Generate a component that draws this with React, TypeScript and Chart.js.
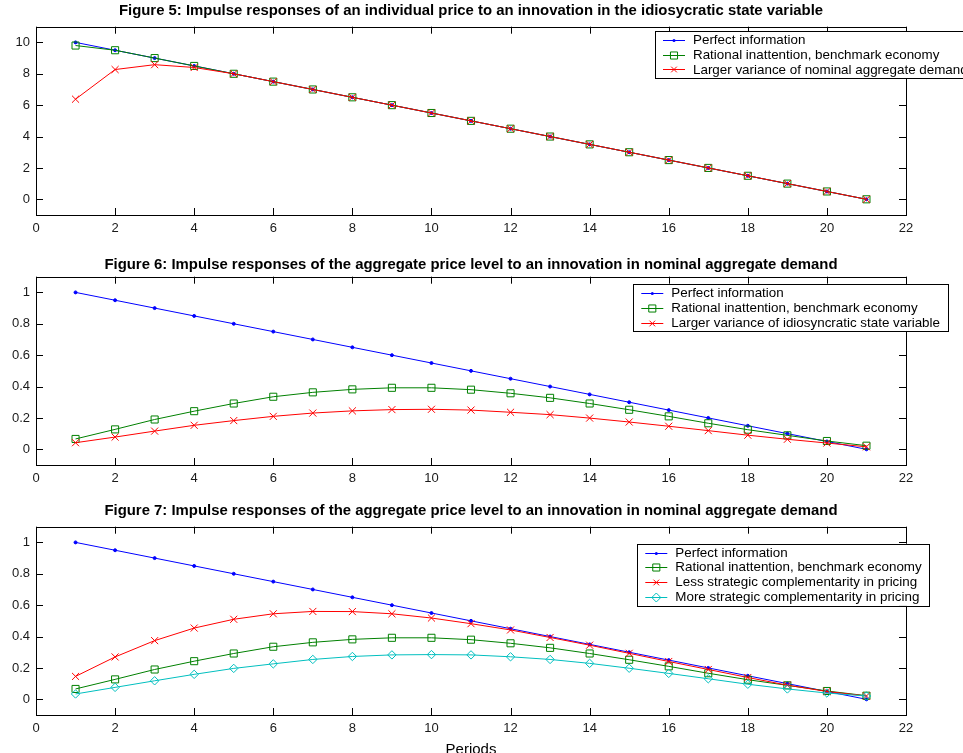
import React, { useEffect, useRef } from 'react';
import { Chart, registerables } from 'chart.js';

Chart.register(...registerables);

// ---------------- data ----------------
const periods = [1, 2, 3, 4, 5, 6, 7, 8, 9, 10, 11, 12, 13, 14, 15, 16, 17, 18, 19, 20, 21];
const xTickValues = [0, 2, 4, 6, 8, 10, 12, 14, 16, 18, 20, 22];
const fig5YTicks = [0, 2, 4, 6, 8, 10];
const fig67YTicks = [0, 0.2, 0.4, 0.6, 0.8, 1];

const fig5Perfect = [10, 9.5, 9, 8.5, 8, 7.5, 7, 6.5, 6, 5.5, 5, 4.5, 4, 3.5, 3, 2.5, 2, 1.5, 1, 0.5, 0];
const fig5Benchmark = [9.8, 9.5, 9, 8.5, 8, 7.5, 7, 6.5, 6, 5.5, 5, 4.5, 4, 3.5, 3, 2.5, 2, 1.5, 1, 0.5, 0];
const fig5LargerNominal = [6.38, 8.27, 8.58, 8.4, 8, 7.5, 7, 6.5, 6, 5.5, 5, 4.5, 4, 3.5, 3, 2.5, 2, 1.5, 1, 0.5, 0];

const aggPerfect = [1, 0.95, 0.9, 0.85, 0.8, 0.75, 0.7, 0.65, 0.6, 0.55, 0.5, 0.45, 0.4, 0.35, 0.3, 0.25, 0.2, 0.15, 0.1, 0.05, 0];
const aggBenchmark = [0.066, 0.127, 0.19, 0.243, 0.292, 0.335, 0.363, 0.382, 0.392, 0.392, 0.38, 0.357, 0.328, 0.292, 0.252, 0.21, 0.166, 0.125, 0.089, 0.053, 0.023];
const fig6LargerIdio = [0.042, 0.078, 0.116, 0.153, 0.183, 0.21, 0.231, 0.245, 0.253, 0.255, 0.25, 0.236, 0.221, 0.199, 0.174, 0.147, 0.119, 0.09, 0.064, 0.04, 0.016];
const fig7LessComp = [0.146, 0.27, 0.374, 0.454, 0.51, 0.545, 0.56, 0.559, 0.545, 0.518, 0.482, 0.442, 0.394, 0.345, 0.293, 0.241, 0.19, 0.139, 0.09, 0.05, 0.021];
const fig7MoreComp = [0.034, 0.076, 0.118, 0.159, 0.197, 0.226, 0.254, 0.273, 0.283, 0.285, 0.283, 0.271, 0.254, 0.229, 0.198, 0.165, 0.131, 0.096, 0.066, 0.04, 0.021];

const labelPerfect = 'Perfect information';
const labelBenchmark = 'Rational inattention, benchmark economy';

// ---------------- styles ----------------
const FONT = '"Liberation Sans", Arial, Helvetica, sans-serif';
const BLUE = '#0000ff';
const GREEN = '#008000';
const RED = '#ff0000';
const CYAN = '#00bfbf';

type Marker = 'dot' | 'square' | 'x' | 'diamond';
type Series = { label: string; data: number[]; color: string; marker: Marker };

const markerStyle: Record<Marker, { pointStyle: string; radius: number }> = {
  dot: { pointStyle: 'circle', radius: 1.5 },
  square: { pointStyle: 'rect', radius: 5 },
  x: { pointStyle: 'crossRot', radius: 5 },
  diamond: { pointStyle: 'rectRot', radius: 4.2 },
};

type Panel = {
  top: number;
  height: number;
  areaTop: number;
  areaBottom: number;
  yMin: number;
  yMax: number;
  yTicks: number[];
  title: string;
  titleGap: number;
  series: Series[];
  legendLeft: number;
  legendTop: number;
  xTitle?: string;
};

const panels: Panel[] = [
  {
    top: 0, height: 250, areaTop: 26.7, areaBottom: 215, yMin: -1, yMax: 11, yTicks: fig5YTicks,
    title: 'Figure 5: Impulse responses of an individual price to an innovation in the idiosycratic state variable',
    titleGap: 15.7,
    series: [
      { label: labelPerfect, data: fig5Perfect, color: BLUE, marker: 'dot' },
      { label: labelBenchmark, data: fig5Benchmark, color: GREEN, marker: 'square' },
      { label: 'Larger variance of nominal aggregate demand', data: fig5LargerNominal, color: RED, marker: 'x' },
    ],
    legendLeft: 655, legendTop: 31,
  },
  {
    top: 250, height: 245, areaTop: 26.7, areaBottom: 215, yMin: -0.1, yMax: 1.1, yTicks: fig67YTicks,
    title: 'Figure 6: Impulse responses of the aggregate price level to an innovation in nominal aggregate demand',
    titleGap: 11.7,
    series: [
      { label: labelPerfect, data: aggPerfect, color: BLUE, marker: 'dot' },
      { label: labelBenchmark, data: aggBenchmark, color: GREEN, marker: 'square' },
      { label: 'Larger variance of idiosyncratic state variable', data: fig6LargerIdio, color: RED, marker: 'x' },
    ],
    legendLeft: 633.3, legendTop: 34.3,
  },
  {
    top: 495, height: 258, areaTop: 31.7, areaBottom: 220, yMin: -0.1, yMax: 1.1, yTicks: fig67YTicks,
    title: 'Figure 7: Impulse responses of the aggregate price level to an innovation in nominal aggregate demand',
    titleGap: 15.7,
    series: [
      { label: labelPerfect, data: aggPerfect, color: BLUE, marker: 'dot' },
      { label: labelBenchmark, data: aggBenchmark, color: GREEN, marker: 'square' },
      { label: 'Less strategic complementarity in pricing', data: fig7LessComp, color: RED, marker: 'x' },
      { label: 'More strategic complementarity in pricing', data: fig7MoreComp, color: CYAN, marker: 'diamond' },
    ],
    legendLeft: 637.3, legendTop: 48.7,
    xTitle: 'Periods',
  },
];

const WIDTH = 963;
const AREA_LEFT = 36;
const AREA_RIGHT = 906;

function drawLegendMarker(ctx: CanvasRenderingContext2D, m: Marker, x: number, y: number, color: string) {
  ctx.save();
  ctx.strokeStyle = color;
  ctx.fillStyle = color;
  ctx.lineWidth = 1;
  ctx.beginPath();
  if (m === 'dot') {
    ctx.arc(x, y, 1.5, 0, Math.PI * 2);
    ctx.fill();
  } else if (m === 'square') {
    const s = 5 * Math.SQRT1_2;
    ctx.rect(x - s, y - s, 2 * s, 2 * s);
    ctx.stroke();
  } else if (m === 'x') {
    const s = 4 * Math.SQRT1_2;
    ctx.moveTo(x - s, y - s); ctx.lineTo(x + s, y + s);
    ctx.moveTo(x + s, y - s); ctx.lineTo(x - s, y + s);
    ctx.stroke();
  } else {
    const r = 4.5;
    ctx.moveTo(x - r, y); ctx.lineTo(x, y - r); ctx.lineTo(x + r, y); ctx.lineTo(x, y + r); ctx.closePath();
    ctx.stroke();
  }
  ctx.restore();
}

function makeFramePlugin(panel: Panel) {
  return {
    id: 'matlabFrame',
    afterDatasetsDraw(chart: any) {
      const ctx: CanvasRenderingContext2D = chart.ctx;
      const a = chart.chartArea;
      const xs = chart.scales.x;
      const ys = chart.scales.y;
      ctx.save();
      // frame
      ctx.strokeStyle = '#000';
      ctx.lineWidth = 1;
      ctx.strokeRect(Math.round(a.left) + 0.5, Math.round(a.top) + 0.5, Math.round(a.right - a.left), Math.round(a.bottom - a.top));
      // inward ticks
      const tl = 7;
      ctx.beginPath();
      xTickValues.forEach((v) => {
        const px = Math.round(xs.getPixelForValue(v)) + 0.5;
        ctx.moveTo(px, a.bottom); ctx.lineTo(px, a.bottom - tl);
        ctx.moveTo(px, a.top); ctx.lineTo(px, a.top + tl);
      });
      panel.yTicks.forEach((v) => {
        const py = Math.round(ys.getPixelForValue(v)) + 0.5;
        ctx.moveTo(a.left, py); ctx.lineTo(a.left + tl, py);
        ctx.moveTo(a.right, py); ctx.lineTo(a.right - tl, py);
      });
      ctx.stroke();

      // title
      ctx.fillStyle = '#000';
      ctx.font = `bold 14.9px ${FONT}`;
      ctx.textAlign = 'center';
      ctx.textBaseline = 'middle';
      ctx.fillText(panel.title, (a.left + a.right) / 2, a.top - panel.titleGap);

      // x title
      if (panel.xTitle) {
        ctx.font = `15px ${FONT}`;
        ctx.fillText(panel.xTitle, (a.left + a.right) / 2, a.bottom + 35);
      }

      // legend
      ctx.font = `13.4px ${FONT}`;
      const rowH = 14.8;
      let maxW = 0;
      panel.series.forEach((s) => { maxW = Math.max(maxW, ctx.measureText(s.label).width); });
      const L = panel.legendLeft;
      const T = panel.legendTop;
      const w = 38 + maxW + 8;
      const h = panel.series.length * rowH + 3;
      ctx.fillStyle = '#fff';
      ctx.fillRect(L, T, w, h);
      ctx.strokeStyle = '#000';
      ctx.strokeRect(Math.round(L) + 0.5, Math.round(T) + 0.5, Math.round(w), Math.round(h));
      panel.series.forEach((s, i) => {
        const y = T + 8.8 + i * rowH;
        ctx.strokeStyle = s.color;
        ctx.lineWidth = 1;
        ctx.beginPath();
        ctx.moveTo(L + 8, Math.round(y) + 0.5);
        ctx.lineTo(L + 30, Math.round(y) + 0.5);
        ctx.stroke();
        drawLegendMarker(ctx, s.marker, L + 19, Math.round(y) + 0.5, s.color);
        ctx.fillStyle = '#000';
        ctx.textAlign = 'left';
        ctx.textBaseline = 'middle';
        ctx.fillText(s.label, L + 38, y + 0.5);
      });
      ctx.restore();
    },
  };
}

function PanelChart({ panel }: { panel: Panel }) {
  const ref = useRef<HTMLCanvasElement | null>(null);
  useEffect(() => {
    if (!ref.current) return;
    const n = panel.series.length;
    const chart = new Chart(ref.current, {
      type: 'line',
      data: {
        datasets: panel.series.map((s, i) => ({
          label: s.label,
          data: periods.map((p, k) => ({ x: p, y: s.data[k] })),
          borderColor: s.color,
          backgroundColor: s.marker === 'dot' ? s.color : 'transparent',
          pointBorderColor: s.color,
          pointBackgroundColor: s.marker === 'dot' ? s.color : 'transparent',
          pointStyle: markerStyle[s.marker].pointStyle as any,
          pointRadius: markerStyle[s.marker].radius,
          pointBorderWidth: 1,
          borderWidth: 1,
          tension: 0,
          fill: false,
          order: n - i,
        })),
      },
      options: {
        responsive: false,
        animation: false,
        devicePixelRatio: 1,
        layout: {
          padding: { top: panel.areaTop, left: 0, right: WIDTH - AREA_RIGHT, bottom: 0 },
        },
        plugins: {
          legend: { display: false },
          title: { display: false },
          tooltip: { enabled: false },
        },
        scales: {
          x: {
            type: 'linear',
            min: 0,
            max: 22,
            grid: { display: false, drawTicks: false },
            border: { display: false },
            ticks: { padding: 6, color: '#1a1a1a', font: { family: FONT, size: 13 }, maxRotation: 0 },
            afterBuildTicks: (s: any) => { s.ticks = xTickValues.map((v) => ({ value: v })); },
            afterFit: (s: any) => { s.height = panel.height - panel.areaBottom; },
          },
          y: {
            type: 'linear',
            min: panel.yMin,
            max: panel.yMax,
            grid: { display: false, drawTicks: false },
            border: { display: false },
            ticks: { padding: 6, color: '#1a1a1a', font: { family: FONT, size: 13 }, callback: (v: any) => String(v) },
            afterBuildTicks: (s: any) => { s.ticks = panel.yTicks.map((v) => ({ value: v })); },
            afterFit: (s: any) => { s.width = AREA_LEFT; },
          },
        },
      } as any,
      plugins: [makeFramePlugin(panel)],
    });
    return () => chart.destroy();
  }, [panel]);
  return (
    <canvas
      ref={ref}
      width={WIDTH}
      height={panel.height}
      style={{ position: 'absolute', left: 0, top: panel.top, width: WIDTH, height: panel.height }}
    />
  );
}

export default function App() {
  return (
    <div style={{ position: 'absolute', left: 0, top: 0, width: WIDTH, height: 753, background: '#fff', overflow: 'hidden' }}>
      {panels.map((p, i) => (
        <PanelChart key={i} panel={p} />
      ))}
    </div>
  );
}
